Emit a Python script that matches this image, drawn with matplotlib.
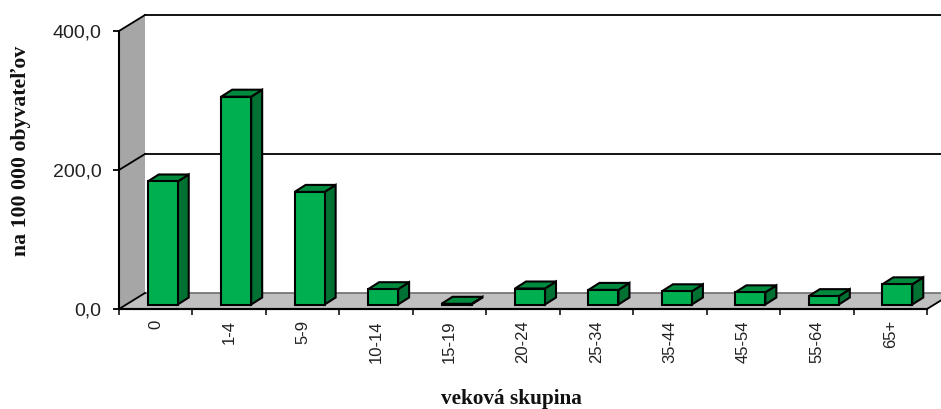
import matplotlib
matplotlib.use('Agg')
import matplotlib.pyplot as plt
from matplotlib.patches import Polygon

categories = ['0', '1-4', '5-9', '10-14', '15-19', '20-24', '25-34', '35-44', '45-54', '55-64', '65+']
values = [177.0, 299.0, 162.0, 22.0, 1.0, 23.0, 21.0, 19.0, 17.5, 12.0, 29.0]
y_ticks = [0, 200, 400]
y_tick_labels = ['0,0', '200,0', '400,0']

W = 941
H = 409
LEFT = 119
RIGHT = 927
FLOOR = 309
TOP = 31

cat_px = (RIGHT - LEFT) / len(categories)
val_px = (FLOOR - TOP) / 400


def px_x(p: float) -> float:
    return p / cat_px


def px_y(p: float) -> float:
    return p / val_px


def main() -> None:
    fig = plt.figure(figsize=(W / 100, H / 100), dpi=100)
    ax = fig.add_axes([LEFT / W, 1 - FLOOR / H, (RIGHT - LEFT) / W, (FLOOR - TOP) / H])
    x0 = -0.5
    x1 = len(categories) - 0.5
    ax.set_xlim(x0, x1)
    ax.set_ylim(0, 400)

    # back of the box
    wall_dx = px_x(26)
    wall_dy = px_y(16)
    ax.add_patch(Polygon([(x0, 0), (x0, 400), (x0 + wall_dx, 400 + wall_dy), (x0 + wall_dx, wall_dy)],
                         fc='#a6a6a6', ec='none', clip_on=False, zorder=1))
    ax.add_patch(Polygon([(x0, 0), (x1, 0), (x1 + wall_dx, wall_dy), (x0 + wall_dx, wall_dy)],
                         fc='#c0c0c0', ec='none', clip_on=False, zorder=1))
    ax.plot([x0 + wall_dx, x1 + wall_dx], [wall_dy, wall_dy], color='#6e6e6e', lw=1.2, clip_on=False, zorder=2)
    ax.plot([x0, x1], [0, 0], color='black', lw=1.5, clip_on=False, zorder=2)
    ax.plot([x1, x1 + wall_dx], [0, wall_dy], color='black', lw=1.3, clip_on=False, zorder=2)
    for tick in y_ticks:
        ax.plot([x0, x0 + wall_dx], [tick, tick + wall_dy], color='black', lw=1.3, clip_on=False, zorder=2)
        if tick > 0:
            ax.plot([x0 + wall_dx, x1 + wall_dx], [tick + wall_dy, tick + wall_dy], color='black', lw=1.3,
                    clip_on=False, zorder=2)

    # bars, front face then the two visible sides
    bar_shift = px_x(7)
    bar_width = px_x(30)
    bar_base = px_y(4.5)
    bar_dx = px_x(11)
    bar_dy = px_y(7)
    positions = [i + bar_shift for i in range(len(categories))]
    ax.bar(positions, values, width=bar_width, bottom=bar_base, color='#00b050', edgecolor='black',
           linewidth=1.5, clip_on=False, zorder=4)
    for pos, value in zip(positions, values):
        left = pos - bar_width / 2
        right = pos + bar_width / 2
        top = bar_base + value
        ax.add_patch(Polygon([(right, bar_base), (right + bar_dx, bar_base + bar_dy),
                              (right + bar_dx, top + bar_dy), (right, top)],
                             fc='#007033', ec='black', lw=1.5, clip_on=False, zorder=3))
        ax.add_patch(Polygon([(left, top), (right, top), (right + bar_dx, top + bar_dy),
                              (left + bar_dx, top + bar_dy)],
                             fc='#008a3e', ec='black', lw=1.5, clip_on=False, zorder=3))

    # axes
    for side in ['top', 'right']:
        ax.spines[side].set_visible(False)
    for side in ['left', 'bottom']:
        ax.spines[side].set_linewidth(1.5)
        ax.spines[side].set_zorder(5)
    ax.set_yticks(y_ticks)
    ax.set_yticklabels(y_tick_labels, fontsize=14, family='Liberation Sans', color='#222222')
    ax.tick_params(axis='y', length=4.5, width=1.3, pad=8)
    ax.set_xticks(range(len(categories)))
    ax.set_xticklabels(categories, rotation=90, fontsize=12, family='Liberation Sans', color='#222222')
    ax.tick_params(axis='x', which='major', length=0, pad=8)
    ax.set_xticks([x0 + i for i in range(len(categories) + 1)], minor=True)
    ax.tick_params(axis='x', which='minor', length=4.5, width=1.1)

    fig.text(511 / W, 1 - 399 / H, 'veková skupina', family='Liberation Serif', weight='bold', fontsize=15.3,
             ha='center', va='center', color='#111111')
    fig.text(21 / W, 1 - 151 / H, 'na 100 000 obyvateľov', family='Liberation Serif', weight='bold', fontsize=15.7,
             rotation=90, ha='center', va='center', color='#111111')

    fig.savefig('out.png', dpi=100)


if __name__ == '__main__':
    main()
